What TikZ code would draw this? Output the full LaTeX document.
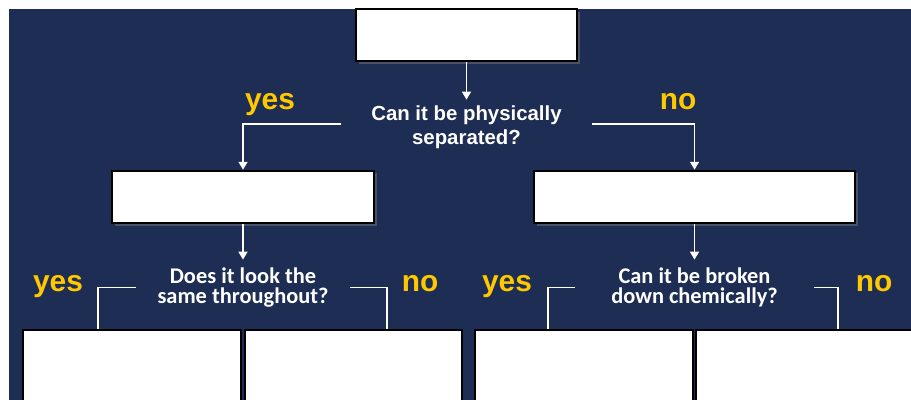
\documentclass[tikz,border=0pt]{standalone}
\usepackage{fontspec}
\setmainfont{Liberation Sans}
\newfontfamily\qfont{Carlito}
\usepackage{xcolor}
\usetikzlibrary{arrows.meta,shadows}
\definecolor{NavyBg}{HTML}{1D2D53}
\definecolor{AYellow}{HTML}{FFC800}

\begin{document}
\begin{tikzpicture}[
  box/.style={rectangle,draw=black,fill=white,line width=1.2pt,inner sep=0pt},
  shbox/.style={box,drop shadow={shadow xshift=1.5pt,shadow yshift=-1.5pt,opacity=.45}},
  ques/.style={text=white,align=center,inner sep=0pt},
  ans/.style={text=AYellow,font=\fontsize{17}{17}\selectfont\bfseries,anchor=base},
  link/.style={draw=white,line width=1.1pt},
  arr/.style={link,-{Triangle[width=5pt,length=4.5pt]}}]
  \clip (0,0) rectangle (18.22,8);
  \fill[NavyBg] (0.18,0) rectangle (18.22,7.82);
  % first question
  \node[shbox,minimum width=4.42cm,minimum height=1.04cm] (matter) at (9.33,7.30) {};
  \node[ques,font=\fontsize{11.6}{13.6}\selectfont\bfseries,
    minimum width=5cm,minimum height=1.08cm] (q1) at (9.33,5.46)
    {Can it be physically\\separated?};
  \node[ans] (yes1) at (5.40,5.80) {yes};
  \node[ans] (no1)  at (13.56,5.80) {no};
  \draw[arr] (matter.south) -- (q1.north);
  \node[shbox,minimum width=5.24cm,minimum height=1.05cm] (mixture) at (4.86,4.06) {};
  \node[shbox,minimum width=6.42cm,minimum height=1.05cm] (puresub) at (13.89,4.06) {};
  \draw[arr] ([yshift=.06cm]q1.west) -| (mixture.north);
  \draw[arr] ([yshift=.06cm]q1.east) -| (puresub.north);
  % second row of questions
  \node[ques,font=\qfont\fontsize{12.75}{11.6}\selectfont\bfseries,
    minimum width=4.26cm,minimum height=1.1cm] (q2) at (4.86,2.25)
    {Does it look the\\same throughout?};
  \node[ques,font=\qfont\fontsize{12.75}{11.6}\selectfont\bfseries,
    minimum width=4.76cm,minimum height=1.1cm] (q3) at (13.89,2.25)
    {Can it be broken\\down chemically?};
  \draw[arr] (mixture.south) -- (q2.north);
  \draw[arr] (puresub.south) -- (q3.north);
  \node[ans] (yes2) at (1.16,2.17) {yes};
  \node[ans] (no2)  at (8.40,2.17) {no};
  \node[ans] (yes3) at (10.14,2.17) {yes};
  \node[ans] (no3)  at (17.48,2.17) {no};
  % bottom boxes
  \node[box,anchor=north west,minimum width=4.36cm,minimum height=1.82cm] (homog)    at (0.44,1.42) {};
  \node[box,anchor=north west,minimum width=4.34cm,minimum height=1.82cm] (heterog)  at (4.88,1.42) {};
  \node[box,anchor=north west,minimum width=4.36cm,minimum height=1.82cm] (compound) at (9.48,1.42) {};
  \node[box,anchor=north west,minimum width=4.50cm,minimum height=1.82cm] (element)  at (13.90,1.42) {};
  \coordinate (d1) at (1.96,1.42);
  \coordinate (d2) at (7.74,1.42);
  \coordinate (d3) at (10.96,1.42);
  \coordinate (d4) at (16.76,1.42);
  \draw[link] (q2.west) -| (d1);
  \draw[link] (q2.east) -| (d2);
  \draw[link] (q3.west) -| (d3);
  \draw[link] (q3.east) -| (d4);
\end{tikzpicture}
\end{document}
